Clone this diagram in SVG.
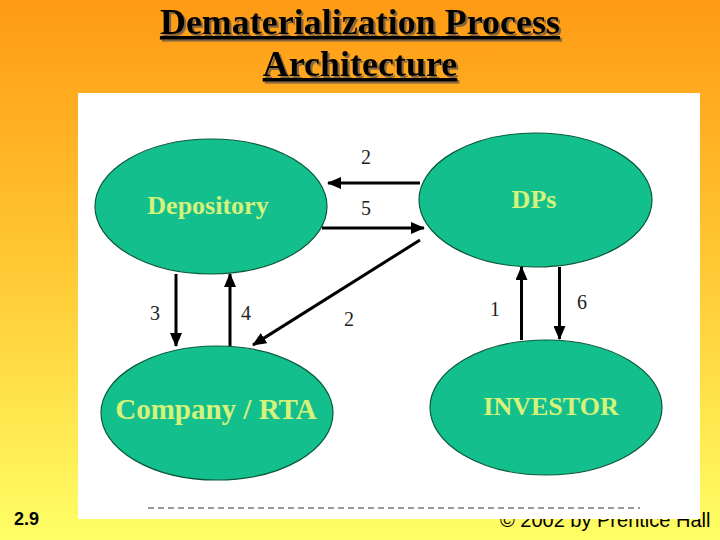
<svg xmlns="http://www.w3.org/2000/svg" width="720" height="540" viewBox="0 0 720 540">
  <defs>
    <linearGradient id="bg" x1="0" y1="0" x2="0" y2="1">
      <stop offset="0" stop-color="#FF9A14"/>
      <stop offset="0.5" stop-color="#FFC934"/>
      <stop offset="1" stop-color="#FFFF66"/>
    </linearGradient>
    <filter id="shadow" x="-5%" y="-20%" width="110%" height="140%">
      <feDropShadow dx="2" dy="2" stdDeviation="0.3" flood-color="#7a6040" flood-opacity="0.9"/>
    </filter>
    <marker id="ah" markerUnits="userSpaceOnUse" markerWidth="14" markerHeight="12" refX="13" refY="6" orient="auto">
      <path d="M0,0 L14,6 L0,12 z" fill="#000"/>
    </marker>
    <style>
      .node ellipse { fill: #14BF8E; stroke: #0B5A3A; stroke-width: 1.2; }
      .node text { font-family: "Liberation Serif", "Times New Roman", serif; font-weight: bold; fill: #D6F27A; text-anchor: middle; }
      .conn line { stroke: #000; stroke-width: 3; marker-end: url(#ah); }
      .lbl { font-family: "Liberation Serif", "Times New Roman", serif; font-size: 20px; fill: #222; text-anchor: middle; }
      .title { font-family: "Liberation Serif", "Times New Roman", serif; font-weight: bold; font-size: 36px; text-anchor: middle; fill: #000; }
    </style>
  </defs>

  <rect x="0" y="0" width="720" height="540" fill="url(#bg)"/>

  <g id="title" filter="url(#shadow)">
    <text class="title" x="360" y="34" text-decoration="underline">Dematerialization Process</text>
    <text class="title" x="360" y="76" text-decoration="underline">Architecture</text>
  </g>

  <text x="500" y="527" font-family="Liberation Sans, Arial, sans-serif" font-size="20" fill="#000">© 2002 by Prentice Hall</text>
  <text x="14" y="525" font-family="Liberation Sans, Arial, sans-serif" font-size="18" font-weight="bold" fill="#000">2.9</text>

  <rect x="78" y="93" width="622" height="426" fill="#FFFFFF"/>

  <line x1="148" y1="508" x2="640" y2="508" stroke="#333" stroke-width="1" stroke-dasharray="6,4"/>

  <g id="depository" class="node">
    <ellipse cx="211" cy="206.5" rx="116" ry="67.5"/>
    <text x="208" y="214" font-size="26">Depository</text>
  </g>
  <g id="dps" class="node">
    <ellipse cx="535.5" cy="200" rx="116.5" ry="67"/>
    <text x="534" y="208" font-size="26">DPs</text>
  </g>
  <g id="company" class="node">
    <ellipse cx="217" cy="413" rx="116" ry="67"/>
    <text x="216" y="419" font-size="29">Company / RTA</text>
  </g>
  <g id="investor" class="node">
    <ellipse cx="546" cy="407.5" rx="116" ry="67.5"/>
    <text x="551" y="415" font-size="26">INVESTOR</text>
  </g>

  <g id="connectors" class="conn">
    <line x1="420" y1="183" x2="328" y2="183"/>
    <line x1="322" y1="228" x2="424" y2="228"/>
    <line x1="420" y1="240" x2="253" y2="345"/>
    <line x1="176" y1="274" x2="176" y2="346"/>
    <line x1="230" y1="346" x2="230" y2="274"/>
    <line x1="521.5" y1="340" x2="521.5" y2="267"/>
    <line x1="559.5" y1="267" x2="559.5" y2="339"/>
  </g>

  <g id="labels">
    <text class="lbl" x="366" y="164">2</text>
    <text class="lbl" x="366" y="215">5</text>
    <text class="lbl" x="349" y="326">2</text>
    <text class="lbl" x="155" y="320">3</text>
    <text class="lbl" x="246" y="320">4</text>
    <text class="lbl" x="495" y="316">1</text>
    <text class="lbl" x="582" y="309">6</text>
  </g>
</svg>
